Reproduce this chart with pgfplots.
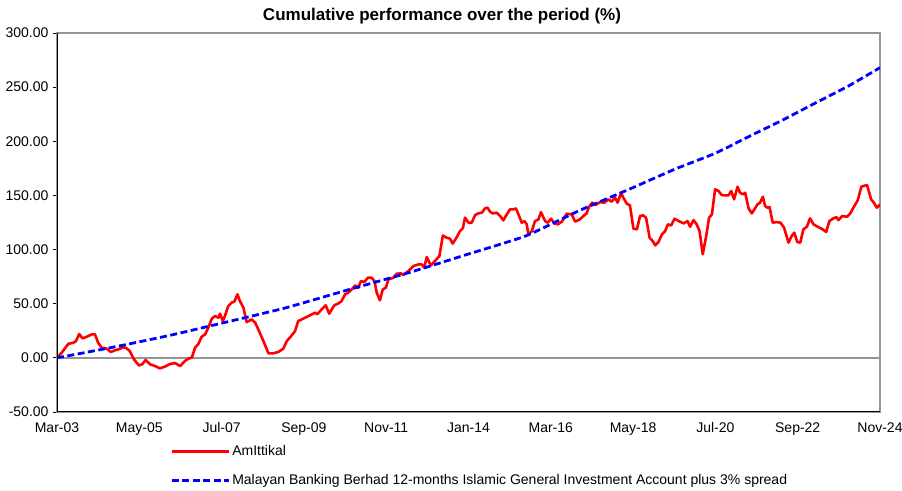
\documentclass[border=0pt]{standalone}
\usepackage{pgfplots}
\pgfplotsset{compat=1.18}
\usepackage{fontspec}
\setmainfont{Liberation Sans}
\definecolor{zeroline}{RGB}{150,150,150}
\begin{document}
\begin{tikzpicture}[x=1pt,y=1pt]
\useasboundingbox (0,0) rectangle (902,490);
\node[font=\fontsize{17}{19}\selectfont\bfseries] at (442,474) {Cumulative performance over the period (\%)};
\begin{axis}[
  at={(57pt,78pt)}, anchor=south west,
  scale only axis, width=823pt, height=379pt,
  xmin=0, xmax=260, ymin=-50, ymax=300,
  xtick={0,26,...,260},
  xticklabels={Mar-03,May-05,Jul-07,Sep-09,Nov-11,Jan-14,Mar-16,May-18,Jul-20,Sep-22,Nov-24},
  ytick={-50,0,...,300},
  ytick pos=left, tick align=outside,
  major tick length=4pt,
  xtick style={draw=none},
  ytick style={black, line width=0.8pt},
  yticklabel style={/pgf/number format/fixed, /pgf/number format/fixed zerofill, /pgf/number format/precision=2, /pgf/number format/assume math mode=true, xshift=-1pt},
  ticklabel style={font=\fontsize{14}{16}\selectfont},
  xticklabel style={yshift=-3pt},
  axis line style={zeroline, line width=1.2pt},
  extra y ticks={0}, extra y tick labels={},
  extra y tick style={grid=major, major grid style={zeroline, line width=1.3pt}, tick style={draw=none}},
  legend style={at={(0.134,-0.078)}, anchor=north west, draw=none, fill=none,
    font=\fontsize{14}{16}\selectfont, row sep=13pt, cells={anchor=west}},
  legend cell align=left,
  legend image code/.code={\draw[#1] (0pt,0pt) -- (57pt,0pt);},
]
\addplot[red, line width=2.6pt, line join=round] coordinates {
(0,0) (1.5,4.8) (3.6,13) (5.2,14) (6,15.5) (7,22) (8.1,18) (9.4,19.5) (11,21.7) (12,21.7)
(13,14) (14.1,9.4) (15.7,8.5) (17,5.4) (18.3,7) (19.4,7.8) (20.8,9.7) (21.7,9.4) (23,6.3)
(24.3,-1.4) (25.9,-7) (27,-5.7) (28,-2) (29.4,-6) (31,-7.6) (32.5,-9.7) (34.1,-8.1) (35.7,-5.6)
(37.3,-4.8) (38.9,-7.6) (40.4,-2.9) (41.5,-0.7) (42.6,0.2) (43.6,9.4) (44.6,12.5) (45.7,19.5)
(46.8,21.7) (47.8,27.9) (48.9,36.2) (49.9,38.6) (51,37.1) (51.5,40.8) (52.4,34) (53.1,39.2)
(54.1,47.8) (55.2,51) (56,51.9) (57,58.6) (57.8,52.4) (58.9,46.3) (59.9,33) (61.5,35.5)
(62.6,32.5) (63.6,26.3) (65.2,15.5) (66.8,4.2) (68.3,4.2) (69.9,5.4) (71.5,8.5) (72.6,15.5)
(73.8,19.5) (75.2,24.7) (76.2,34) (77.8,36.2) (79.4,38.6) (80.5,40.2) (81.5,41.7) (82.2,40.2)
(83.6,44.8) (84.9,48.5) (86,40.8) (87.6,48.5) (88.9,50.3) (89.9,52.4) (91,58.6) (92,60.2)
(93.1,63.2) (94.2,66.9) (95.2,64.8) (96,70.9) (97.1,70) (98.2,74) (99.4,74) (100.3,70.9)
(101,60.2) (102,53.1) (102.9,63.2) (103.9,64.8) (104.7,72.5) (106.3,74) (107.3,77.7) (108.7,78)
(109.4,76.5) (111,80.1) (112.6,84.8) (114.2,86.3) (115.2,86.3) (116,83.3) (116.8,93.1) (118.1,85.4)
(119.4,89.4) (120.8,94) (121.9,113) (123.1,111) (124.2,110) (125,105.5) (126.3,111.5) (127.3,117)
(128.2,119.6) (128.9,129.5) (130,124.8) (131,124.8) (132.1,131.9) (133.1,133.4) (134.2,134)
(135.2,138) (136,138.7) (136.8,135) (137.6,133.4) (138.9,134) (140,131) (141,127) (142.1,132.5)
(143.1,137.1) (144.2,137.1) (145,138) (146,131) (146.8,124.8) (147.7,126.3) (148.4,123.3)
(148.9,114) (150,117) (151,126.3) (152.1,127.9) (152.9,134.6) (154.2,126.3) (155,124.8)
(156.1,128.5) (157.1,124.2) (158.2,123.3) (159.5,125.8) (161,133.1) (162.6,132.5) (163.7,125.8)
(165.2,127.9) (166.3,131) (167.3,133.4) (168.1,139.6) (169.1,143.3) (170,141.1) (171.6,143.9)
(172.9,143.3) (174.2,146.4) (175.2,144.2) (176.3,147.9) (177.1,143.3) (178.2,152.5) (178.9,147.9)
(180,142.4) (181,140.8) (182.1,119.3) (183.2,118.7) (184.2,131) (185.2,131.6) (186.1,129.4)
(187.2,111) (188.2,107.8) (189,103.9) (190,106.9) (191.1,114) (192.1,117) (193,123.3) (194,122.3)
(195.1,128.5) (196.4,126.3) (198,124.2) (199.2,126.3) (200,121.1) (201.1,127.2) (202.1,123.3)
(203,117) (204,95.6) (205.1,112.5) (206,129.4) (206.9,132.5) (207.9,155.6) (209,154) (210,150.3)
(211.4,150) (212.1,150) (213,154) (213.9,146.4) (215,158) (215.8,152.5) (216.7,151) (217.4,152.5)
(218.5,137.8) (219.5,133.4) (220.3,137) (221.3,141.7) (222.1,143.3) (223,148.8) (223.7,140.2)
(224.4,138.7) (225.1,139.2) (226.1,124.8) (227.4,125.4) (228.6,124.8) (229.7,120.2) (231.1,106.4)
(232.1,112.5) (232.9,115.6) (233.9,106.9) (234.8,106.4) (235.8,118.7) (236.9,121.1) (237.9,128.8)
(239,123.3) (240.3,121.1) (241.9,118.7) (243,116.2) (244,126.3) (245.1,128.5) (246.2,130)
(246.9,127.2) (248,130.9) (249.6,130.4) (250.6,133.4) (251.7,139.2) (253,145.7) (254.1,158.1)
(255.9,159.6) (257.2,146.4) (258.2,142.7) (259,138.7) (260,141.7)
};
\addlegendentry{AmIttikal}
\addplot[blue, line width=2.8pt, dash pattern=on 7pt off 3.5pt, smooth, tension=0.3] coordinates {
(0,0) (18,10) (36,21) (52,32) (72,46) (91,62) (111.5,79) (129,95) (148,112.5) (165,136)
(181,156) (195,174) (208,189) (219,205) (229.5,220) (240,236) (250,251) (260,268)
};
\addlegendentry{Malayan Banking Berhad 12-months Islamic General Investment Account plus 3\% spread}
\end{axis}
\draw[black, line width=1pt] (57,457) -- (57,78) -- (880,78);
\end{tikzpicture}
\end{document}
